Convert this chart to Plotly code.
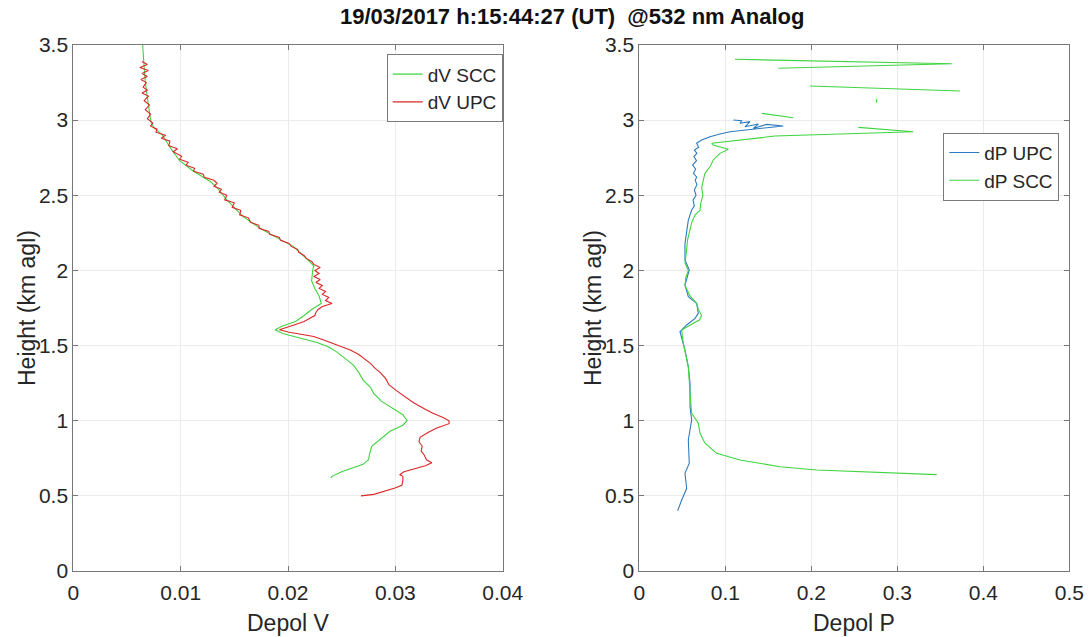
import plotly.graph_objects as go

# ---- Left panel: volume depolarization (dV) ----
dv_scc_height = [3.50, 3.45, 3.39, 3.30, 3.20, 3.10, 3.00, 2.95, 2.90, 2.82, 2.73, 2.66,
                 2.59, 2.55, 2.47, 2.36, 2.28, 2.22, 2.16, 2.08, 2.03, 2.00, 1.93, 1.88,
                 1.83, 1.78, 1.74, 1.70, 1.66, 1.63, 1.605, 1.58, 1.56, 1.52, 1.49, 1.46,
                 1.41, 1.37, 1.32, 1.27, 1.22, 1.18, 1.13, 1.09, 1.04, 1.00, 0.97, 0.93,
                 0.87, 0.83, 0.78, 0.74, 0.71, 0.69, 0.66, 0.63, 0.62]
dv_scc = [0.00646, 0.00650, 0.00655, 0.00665, 0.0068, 0.0070, 0.0072, 0.0075, 0.0083, 0.0090,
          0.0099, 0.0112, 0.0128, 0.0134, 0.0143, 0.0158, 0.0174, 0.0189, 0.0205, 0.0217,
          0.0224, 0.0223, 0.0222, 0.0225, 0.0229, 0.0231, 0.0222, 0.0215, 0.0207, 0.0195,
          0.0188, 0.0195, 0.0205, 0.0227, 0.0238, 0.0245, 0.0254, 0.0261, 0.0266, 0.0270,
          0.0277, 0.0280, 0.0287, 0.0296, 0.0307, 0.0311, 0.0307, 0.0295, 0.0285, 0.0278,
          0.0276, 0.0275, 0.0270, 0.0262, 0.0250, 0.0241, 0.0240]

dv_upc_height = [3.39, 3.37, 3.35, 3.33, 3.31, 3.29, 3.27, 3.25, 3.22, 3.20, 3.18, 3.16,
                 3.13, 3.10, 3.07, 3.04, 3.01, 2.98, 2.96, 2.94, 2.92, 2.90, 2.88, 2.86,
                 2.83, 2.81, 2.79, 2.76, 2.74, 2.72, 2.70, 2.68, 2.66, 2.64, 2.62, 2.60,
                 2.58, 2.56, 2.54, 2.52, 2.50, 2.47, 2.45, 2.42, 2.40, 2.37, 2.35, 2.32,
                 2.30, 2.28, 2.26, 2.24, 2.22, 2.20, 2.18, 2.16, 2.14, 2.12, 2.10, 2.08,
                 2.06, 2.04, 2.02, 2.00, 1.98, 1.96, 1.94, 1.92, 1.90, 1.88, 1.86, 1.84,
                 1.82, 1.80, 1.78, 1.76, 1.74, 1.72, 1.70, 1.68, 1.66, 1.64, 1.62, 1.605,
                 1.59, 1.575, 1.56, 1.54, 1.52, 1.50, 1.47, 1.44, 1.41, 1.38, 1.35, 1.32,
                 1.28, 1.24, 1.20, 1.16, 1.12, 1.08, 1.05, 1.02, 1.00, 0.98, 0.95, 0.92,
                 0.89, 0.86, 0.83, 0.80, 0.77, 0.74, 0.72, 0.70, 0.68, 0.66, 0.64, 0.63,
                 0.60, 0.57, 0.55, 0.53, 0.51, 0.50]
dv_upc = [0.0064, 0.0069, 0.0062, 0.0070, 0.0064, 0.0069, 0.0063, 0.0068, 0.0065, 0.0069,
          0.0064, 0.0070, 0.0066, 0.0071, 0.0067, 0.0072, 0.0069, 0.0074, 0.0072, 0.0078,
          0.0077, 0.0086, 0.0082, 0.0090, 0.0089, 0.0097, 0.0093, 0.0101, 0.0099, 0.0107,
          0.0105, 0.0113, 0.0112, 0.0121, 0.0122, 0.0131, 0.0134, 0.0131, 0.0138, 0.0136,
          0.0143, 0.0141, 0.0150, 0.0148, 0.0156, 0.0155, 0.0163, 0.0165, 0.0173, 0.0173,
          0.0182, 0.0183, 0.0192, 0.0193, 0.0201, 0.0203, 0.0209, 0.0210, 0.0215, 0.0217,
          0.0222, 0.0224, 0.0230, 0.0225, 0.0229, 0.0224, 0.0230, 0.0226, 0.0232, 0.0229,
          0.0235, 0.0232, 0.0238, 0.0235, 0.0241, 0.0232, 0.0228, 0.0226, 0.0225, 0.0220,
          0.0215, 0.0207, 0.0198, 0.0192, 0.0200, 0.0212, 0.0224, 0.0232, 0.0240, 0.0246,
          0.0258, 0.0266, 0.0272, 0.0277, 0.0281, 0.0286, 0.0291, 0.0294, 0.0301, 0.0309,
          0.0317, 0.0327, 0.0335, 0.0345, 0.0350, 0.0350, 0.0338, 0.0330, 0.0323, 0.0322,
          0.0325, 0.0324, 0.0327, 0.0329, 0.0334, 0.0328, 0.0319, 0.0308, 0.0304, 0.0307,
          0.0307, 0.0306, 0.0299, 0.0290, 0.0280, 0.0268]

# ---- Right panel: particle depolarization (dP) ----
dp_upc_height = [3.001, 2.996, 2.979, 2.990, 2.956, 2.974, 2.945, 2.972, 2.961, 2.943,
                 2.934, 2.923, 2.908, 2.890, 2.868, 2.846, 2.820, 2.801, 2.780, 2.757,
                 2.730, 2.701, 2.675, 2.646, 2.620, 2.601, 2.570, 2.535, 2.500, 2.468,
                 2.430, 2.402, 2.335, 2.269, 2.180, 2.069, 2.003, 1.903, 1.825, 1.781,
                 1.740, 1.715, 1.681, 1.637, 1.592, 1.548, 1.470, 1.359, 1.249, 1.093,
                 1.005, 0.872, 0.717, 0.650, 0.550, 0.472, 0.401]
dp_upc = [0.1094, 0.1190, 0.1171, 0.1287, 0.1229, 0.1384, 0.1326, 0.1481, 0.1674, 0.1365,
          0.1209, 0.1055, 0.0938, 0.0822, 0.0725, 0.0667, 0.0690, 0.0640, 0.0670, 0.0635,
          0.0665, 0.0620, 0.0655, 0.0630, 0.0668, 0.0650, 0.0670, 0.0640, 0.0660, 0.0625,
          0.0640, 0.0609, 0.0570, 0.0551, 0.0531, 0.0531, 0.0581, 0.0531, 0.0570, 0.0667,
          0.0680, 0.0686, 0.0648, 0.0551, 0.0473, 0.0493, 0.0531, 0.0570, 0.0590, 0.0590,
          0.0609, 0.0570, 0.0581, 0.0531, 0.0551, 0.0493, 0.0446]

# SCC profile has gaps (None) where the retrieval is discontinuous
dp_scc_height = [3.405, 3.375, 3.345, None,
                 3.227, 3.194, None,
                 3.140, 3.115, None,
                 3.045, 3.016, None,
                 2.952, 2.923, 2.894, 2.846, 2.834, 2.806, 2.779, 2.735, 2.690, 2.646,
                 2.601, 2.550, 2.500, 2.450, 2.400, 2.370, 2.320, 2.270, 2.200, 2.140,
                 2.050, 2.000, 1.950, 1.900, 1.830, 1.780, 1.740, 1.700, 1.670, 1.648,
                 1.603, 1.515, 1.360, 1.180, 1.050, 0.983, 0.916, 0.850, 0.783, 0.739,
                 0.694, 0.672, 0.654, 0.641]
dp_scc = [0.1113, 0.3633, 0.1616, None,
          0.1985, 0.3729, None,
          0.2760, 0.2760, None,
          0.1423, 0.1791, None,
          0.2547, 0.3186, 0.1578, 0.0842, 0.0860, 0.1035, 0.0938, 0.0860, 0.0822, 0.0764,
          0.0744, 0.0725, 0.0740, 0.0715, 0.0706, 0.0650, 0.0610, 0.0590, 0.0560, 0.0551,
          0.0531, 0.0570, 0.0540, 0.0531, 0.0590, 0.0667, 0.0686, 0.0725, 0.0700, 0.0628,
          0.0493, 0.0512, 0.0570, 0.0590, 0.0609, 0.0686, 0.0706, 0.0764, 0.0900, 0.1171,
          0.1636, 0.2063, 0.2799, 0.3458]

# ---- Axis ticks ----
height_ticks = [0, 0.5, 1, 1.5, 2, 2.5, 3, 3.5]
height_labels = ["0", "0.5", "1", "1.5", "2", "2.5", "3", "3.5"]
dv_ticks = [0, 0.01, 0.02, 0.03, 0.04]
dv_labels = ["0", "0.01", "0.02", "0.03", "0.04"]
dp_ticks = [0, 0.1, 0.2, 0.3, 0.4, 0.5]
dp_labels = ["0", "0.1", "0.2", "0.3", "0.4", "0.5"]

title_text = "19/03/2017 h:15:44:27 (UT)  @532 nm Analog"

GREEN = "#3fd43f"
RED = "#dc2626"
BLUE = "#2c7bbf"
FONT = "Liberation Sans, Arial, sans-serif"
TXT = "#262626"

fig = go.Figure()
fig.add_trace(go.Scatter(x=dv_scc, y=dv_scc_height, mode="lines", name="dV SCC",
                         line=dict(color=GREEN, width=1.1), xaxis="x", yaxis="y",
                         legend="legend"))
fig.add_trace(go.Scatter(x=dv_upc, y=dv_upc_height, mode="lines", name="dV UPC",
                         line=dict(color=RED, width=1.1), xaxis="x", yaxis="y",
                         legend="legend"))
fig.add_trace(go.Scatter(x=dp_upc, y=dp_upc_height, mode="lines", name="dP UPC",
                         line=dict(color=BLUE, width=1.1), xaxis="x2", yaxis="y2",
                         legend="legend2"))
fig.add_trace(go.Scatter(x=dp_scc, y=dp_scc_height, mode="lines", name="dP SCC",
                         line=dict(color=GREEN, width=1.1), xaxis="x2", yaxis="y2",
                         legend="legend2", connectgaps=False))

axis_common = dict(showline=True, linecolor="#777777", linewidth=1, mirror="ticks",
                   ticks="inside", ticklen=5, tickcolor="#777777",
                   showgrid=True, gridcolor="#ebebeb", gridwidth=1, zeroline=False,
                   tickfont=dict(family=FONT, size=21, color=TXT), automargin=False,
                   fixedrange=True)

y_dom = [66 / 637, 592 / 637]
fig.update_layout(
    width=1089, height=637,
    margin=dict(l=0, r=0, t=0, b=0),
    paper_bgcolor="white", plot_bgcolor="white",
    xaxis=dict(domain=[73.3 / 1089, 502.7 / 1089], range=[0, 0.04],
               tickvals=dv_ticks, ticktext=dv_labels, anchor="y",
               ticklabelstandoff=3, **axis_common),
    yaxis=dict(domain=y_dom, range=[0, 3.5], tickvals=height_ticks,
               ticktext=height_labels, anchor="x", **axis_common),
    xaxis2=dict(domain=[639.3 / 1089, 1069.3 / 1089], range=[0, 0.5],
                tickvals=dp_ticks, ticktext=dp_labels, anchor="y2",
                ticklabelstandoff=3, **axis_common),
    yaxis2=dict(domain=y_dom, range=[0, 3.5], tickvals=height_ticks,
                ticktext=height_labels, anchor="x2", **axis_common),
    legend=dict(x=386.7 / 1089, y=1 - 54.3 / 637, xanchor="left", yanchor="top",
                bgcolor="white", bordercolor="#7a7a7a", borderwidth=1,
                font=dict(family=FONT, size=19, color=TXT), itemwidth=30,
                tracegroupgap=0),
    legend2=dict(x=943.3 / 1089, y=1 - 132.7 / 637, xanchor="left", yanchor="top",
                 bgcolor="white", bordercolor="#7a7a7a", borderwidth=1,
                 font=dict(family=FONT, size=19, color=TXT), itemwidth=30,
                 tracegroupgap=0),
    showlegend=True,
)

annotations = [
    dict(text="<b>" + title_text + "</b>", x=572 / 1089, y=1 - 17 / 637,
         xanchor="center", yanchor="middle",
         font=dict(family=FONT, size=22, color="#111111")),
    dict(text="Depol V", x=288 / 1089, y=1 - 623 / 637, xanchor="center",
         yanchor="middle", font=dict(family=FONT, size=23, color=TXT)),
    dict(text="Depol P", x=854 / 1089, y=1 - 623 / 637, xanchor="center",
         yanchor="middle", font=dict(family=FONT, size=23, color=TXT)),
    dict(text="Height (km agl)", x=27 / 1089, y=1 - 308 / 637, xanchor="center",
         yanchor="middle", textangle=-90, font=dict(family=FONT, size=23, color=TXT)),
    dict(text="Height (km agl)", x=593 / 1089, y=1 - 308 / 637, xanchor="center",
         yanchor="middle", textangle=-90, font=dict(family=FONT, size=23, color=TXT)),
]
for a in annotations:
    a.update(xref="paper", yref="paper", showarrow=False)
fig.update_layout(annotations=annotations)

fig.write_html("out.html")
